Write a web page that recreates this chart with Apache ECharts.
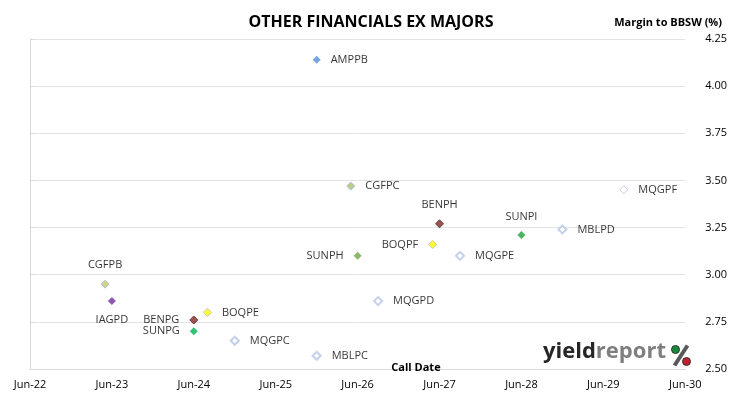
<!DOCTYPE html>
<html>
<head>
<meta charset="utf-8">
<script src="https://cdn.jsdelivr.net/npm/echarts@6/dist/echarts.min.js"></script>
<style>
  html, body { margin: 0; padding: 0; background: #fff; }
  #chart { width: 730px; height: 399px; }
</style>
</head>
<body>
<div id="chart"></div>
<script>
// securities, call dates (yyyy-mm) and margins
var names   = ['AMPPB', 'CGFPC', 'BENPH', 'BOQPF', 'SUNPH', 'MQGPE', 'SUNPI', 'MBLPD', 'MQGPF',
               'CGFPB', 'IAGPD', 'BENPG', 'BOQPE', 'SUNPG', 'MQGPC', 'MQGPD', 'MBLPC'];
var callDates = ['2025-12', '2026-05', '2027-06', '2027-05', '2026-06', '2027-09', '2028-06', '2028-12', '2029-09',
                 '2023-05', '2023-06', '2024-06', '2024-08', '2024-06', '2024-12', '2026-09', '2025-12'];
var margins = [4.14, 3.47, 3.27, 3.16, 3.10, 3.10, 3.21, 3.24, 3.45,
               2.95, 2.86, 2.76, 2.80, 2.70, 2.65, 2.86, 2.57];
var labelSide = ['right', 'right', 'top', 'left', 'left', 'right', 'top', 'right', 'right',
                 'top', 'bottom', 'left', 'right', 'left', 'right', 'right', 'right'];

// months since Jun-22
function toMonths(s) {
  var p = s.split('-');
  return (parseInt(p[0]) - 2022) * 12 + (parseInt(p[1]) - 6);
}

var hollow = { color: '#fff', borderColor: '#b4c6e7', borderWidth: 2 };
var styles = {
  AMPPB: { color: '#558ed5' },
  CGFPC: { color: '#a9c26a', borderColor: '#9db5d8', borderWidth: 1 },
  CGFPB: { color: '#c6c96a', borderColor: '#9db5d8', borderWidth: 1 },
  BENPH: { color: '#7f2a2a', borderColor: '#5a1e1e', borderWidth: 1 },
  BENPG: { color: '#7f2a2a', borderColor: '#5a1e1e', borderWidth: 1 },
  BOQPF: { color: '#ffff00', borderColor: '#b8b8a0', borderWidth: 1 },
  BOQPE: { color: '#ffff00', borderColor: '#b8b8a0', borderWidth: 1 },
  SUNPH: { color: '#70a845' },
  SUNPI: { color: '#1fa33a' },
  SUNPG: { color: '#00b050' },
  IAGPD: { color: '#7030a0' },
  MQGPF: { color: '#fff', borderColor: '#b4c6e7', borderWidth: 1 }
};

var data = names.map(function (n, i) {
  return {
    name: n,
    value: [toMonths(callDates[i]), margins[i]],
    itemStyle: styles[n] || hollow,
    label: {
      position: labelSide[i],
      distance: labelSide[i] === 'top' || labelSide[i] === 'bottom' ? 9 : 10
    }
  };
});

var chart = echarts.init(document.getElementById('chart'));
var font = '"Open Sans", "DejaVu Sans", sans-serif';
var narrow = '"Liberation Sans Narrow", "Open Sans", sans-serif';

chart.setOption({
  animation: false,
  textStyle: { fontFamily: font },
  grid: { left: 30, right: 44, top: 39, bottom: 30 },
  title: [{
    text: 'OTHER FINANCIALS EX MAJORS',
    left: 366, top: 9, textAlign: 'center',
    textStyle: { fontFamily: narrow, fontSize: 16, fontWeight: 'bold', color: '#000' }
  }, {
    text: 'Margin to BBSW (%)',
    right: 3, top: 12,
    textStyle: { fontFamily: narrow, fontSize: 11, fontWeight: 'bold', color: '#000' }
  }, {
    text: 'Call Date',
    left: 411, top: 357, textAlign: 'center',
    textStyle: { fontFamily: narrow, fontSize: 11, fontWeight: 'bold', color: '#000' }
  }],
  xAxis: {
    type: 'value', min: 0, max: 96, interval: 12,
    axisLine: { show: true, lineStyle: { color: '#d9d9d9' } },
    axisTick: { show: false },
    splitLine: { show: false },
    axisLabel: {
      margin: 10, fontSize: 11, color: '#000',
      formatter: function (v) { return 'Jun-' + (22 + v / 12); }
    }
  },
  yAxis: [{
    type: 'value', position: 'right', min: 2.5, max: 4.25, interval: 0.25,
    axisLine: { show: true, lineStyle: { color: '#d9d9d9' } },
    axisTick: { show: true, length: 5, lineStyle: { color: '#d9d9d9' } },
    splitLine: { show: true, lineStyle: { color: '#e3e3e3' } },
    axisLabel: {
      margin: 20, fontSize: 11, color: '#000',
      formatter: function (v) { return v.toFixed(2); }
    }
  }, {
    type: 'value', position: 'left', min: 2.5, max: 4.25,
    axisLine: { show: true, lineStyle: { color: '#d9d9d9' } },
    axisTick: { show: false }, axisLabel: { show: false }, splitLine: { show: false }
  }],
  series: [{
    type: 'scatter',
    symbol: 'diamond',
    symbolSize: 8,
    data: data,
    label: {
      show: true,
      formatter: '{b}',
      fontSize: 11,
      color: '#000'
    }
  }],
  graphic: [{
    type: 'text',
    left: 543, top: 341,
    style: {
      text: '{a|yield}{b|report}',
      rich: {
        a: { fontFamily: font, fontSize: 22, fontWeight: 'bold', fill: '#262626' },
        b: { fontFamily: font, fontSize: 22, fontWeight: 'bold', fill: '#7f7f7f' }
      }
    }
  }, {
    type: 'group', left: 671, top: 343,
    children: [
      { type: 'line', shape: { x1: 16, y1: 1, x2: 3, y2: 21 }, style: { stroke: '#595959', lineWidth: 4 } },
      { type: 'circle', shape: { cx: 4, cy: 5, r: 4 }, style: { fill: '#1a8a3a', stroke: '#333', lineWidth: 1 } },
      { type: 'circle', shape: { cx: 15, cy: 17, r: 4 }, style: { fill: '#c0202a', stroke: '#333', lineWidth: 1 } }
    ]
  }]
});
</script>
</body>
</html>
